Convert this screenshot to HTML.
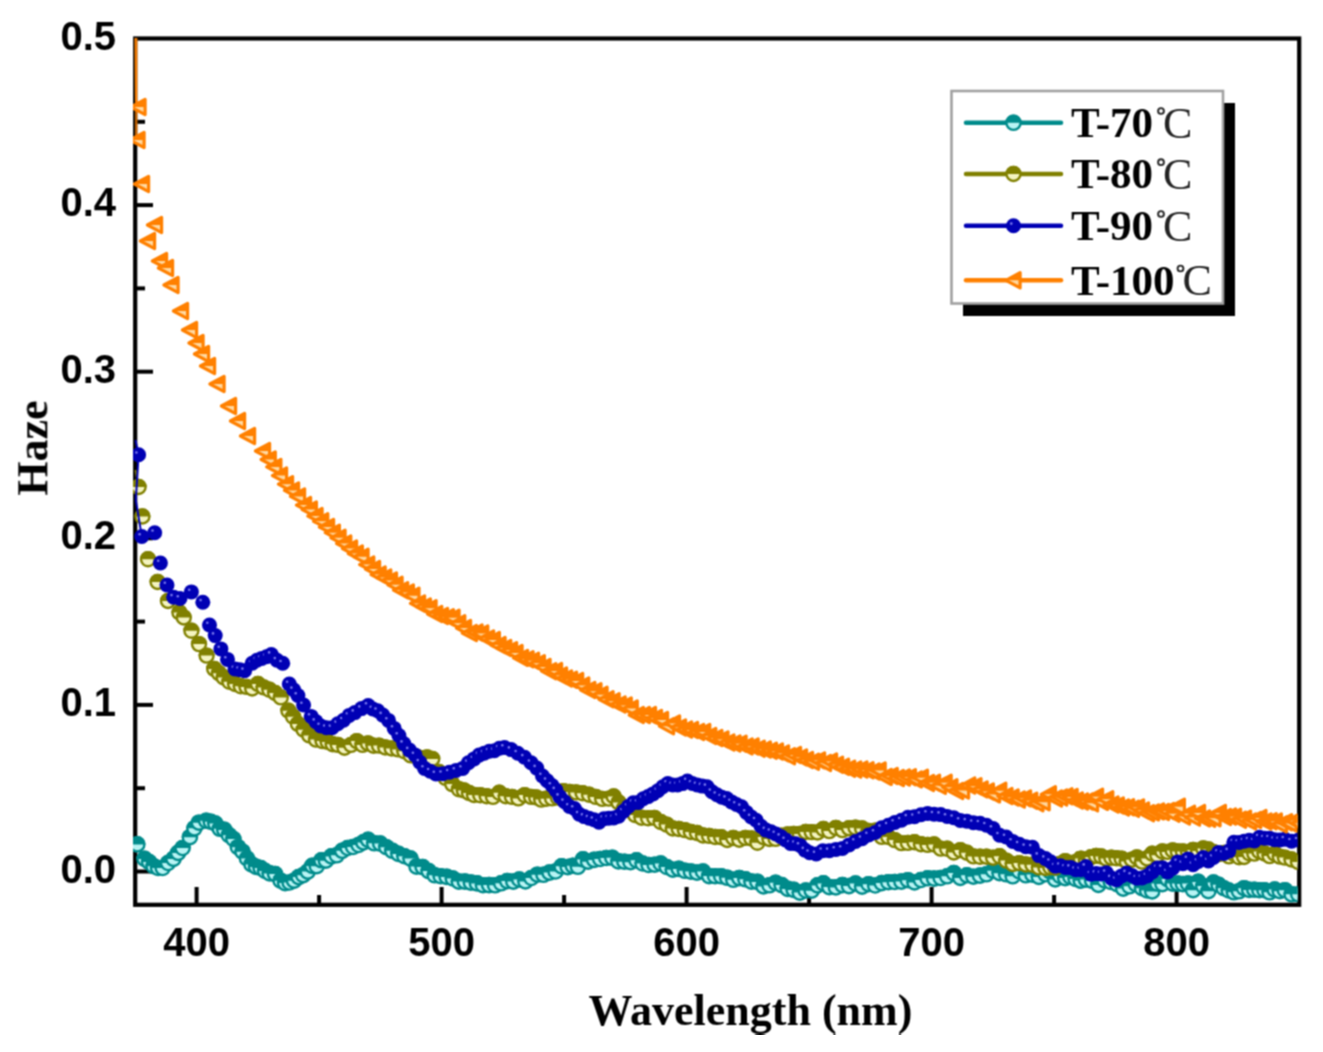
<!DOCTYPE html>
<html><head><meta charset="utf-8"><style>
html,body{margin:0;padding:0;background:#fff;}
svg{display:block;}
.tk{font-family:"Liberation Sans",sans-serif;font-weight:bold;font-size:40px;fill:#000;}
.ti{font-family:"Liberation Serif",serif;font-weight:bold;font-size:44px;fill:#000;}
.lg{font-family:"Liberation Serif",serif;font-weight:bold;font-size:43px;fill:#000;}
.deg{font-weight:normal;font-size:26px;}
.cc{font-family:"Liberation Serif",serif;font-size:44px;fill:#222;}
</style></head><body>
<svg width="1323" height="1052" viewBox="0 0 1323 1052">
<rect width="1323" height="1052" fill="#fff"/>
<filter id="bl" x="0" y="0" width="100%" height="100%" color-interpolation-filters="sRGB"><feConvolveMatrix order="3" kernelMatrix="1 2 1 2 4 2 1 2 1" divisor="16" edgeMode="duplicate"/></filter>
<g filter="url(#bl)">

<defs>
<clipPath id="cp"><rect x="133" y="36" width="1164.5" height="869"/></clipPath>
<g id="mt"><circle r="7.1" fill="#b8f4f4" stroke="#008B8B" stroke-width="2.4"/><path d="M-8.3,0A8.3,8.3 0 0 1 8.3,0Z" fill="#008B8B"/></g>
<g id="mo"><circle r="7.0" fill="#f4f4c0" stroke="#808000" stroke-width="2.4"/><path d="M-8.2,0A8.2,8.2 0 0 1 8.2,0Z" fill="#808000"/></g>
<g id="mb"><circle r="7.5" fill="#0000B4"/><circle cx="-2.2" cy="-2.2" r="1.3" fill="#7b7bf0"/></g>
<g id="mr"><path d="M-7.6,0L6.6,-7.6L6.6,7.6Z" fill="#ffd8a0" stroke="#FF8000" stroke-width="3.2" stroke-linejoin="round"/><path d="M-7.6,0L6.6,-7.6L6.6,0Z" fill="#FF8000"/></g>
</defs>
<rect x="135.2" y="38.5" width="1164" height="866.3" fill="none" stroke="#000" stroke-width="4.2"/><line x1="135" y1="871.5" x2="153" y2="871.5" stroke="#000" stroke-width="4"/><line x1="135" y1="788.2" x2="145" y2="788.2" stroke="#000" stroke-width="4"/><line x1="135" y1="704.9" x2="153" y2="704.9" stroke="#000" stroke-width="4"/><line x1="135" y1="621.6" x2="145" y2="621.6" stroke="#000" stroke-width="4"/><line x1="135" y1="538.3" x2="153" y2="538.3" stroke="#000" stroke-width="4"/><line x1="135" y1="455.0" x2="145" y2="455.0" stroke="#000" stroke-width="4"/><line x1="135" y1="371.7" x2="153" y2="371.7" stroke="#000" stroke-width="4"/><line x1="135" y1="288.4" x2="145" y2="288.4" stroke="#000" stroke-width="4"/><line x1="135" y1="205.1" x2="153" y2="205.1" stroke="#000" stroke-width="4"/><line x1="135" y1="121.8" x2="145" y2="121.8" stroke="#000" stroke-width="4"/><line x1="196.6" y1="905" x2="196.6" y2="887" stroke="#000" stroke-width="4"/><line x1="319.1" y1="905" x2="319.1" y2="895" stroke="#000" stroke-width="4"/><line x1="441.6" y1="905" x2="441.6" y2="887" stroke="#000" stroke-width="4"/><line x1="564.1" y1="905" x2="564.1" y2="895" stroke="#000" stroke-width="4"/><line x1="686.6" y1="905" x2="686.6" y2="887" stroke="#000" stroke-width="4"/><line x1="809.1" y1="905" x2="809.1" y2="895" stroke="#000" stroke-width="4"/><line x1="931.6" y1="905" x2="931.6" y2="887" stroke="#000" stroke-width="4"/><line x1="1054.1" y1="905" x2="1054.1" y2="895" stroke="#000" stroke-width="4"/><line x1="1176.6" y1="905" x2="1176.6" y2="887" stroke="#000" stroke-width="4"/>
<g clip-path="url(#cp)">
<polyline points="135.5,838.0 137.3,844.4" fill="none" stroke="#008B8B" stroke-width="2"/><use href="#mt" x="137.3" y="844.4"/><use href="#mt" x="144.5" y="858.9"/><use href="#mt" x="149.1" y="862.1"/><use href="#mt" x="153.6" y="866.2"/><use href="#mt" x="158.1" y="868.0"/><use href="#mt" x="162.7" y="868.0"/><use href="#mt" x="168.1" y="863.0"/><use href="#mt" x="173.5" y="858.9"/><use href="#mt" x="178.1" y="852.9"/><use href="#mt" x="182.6" y="848.0"/><use href="#mt" x="189.9" y="837.2"/><use href="#mt" x="194.4" y="828.3"/><use href="#mt" x="198.9" y="822.7"/><use href="#mt" x="206.2" y="820.8"/><use href="#mt" x="210.8" y="821.8"/><use href="#mt" x="215.3" y="823.6"/><use href="#mt" x="219.8" y="828.8"/><use href="#mt" x="224.3" y="829.9"/><use href="#mt" x="228.9" y="835.2"/><use href="#mt" x="233.4" y="839.0"/><use href="#mt" x="237.9" y="847.2"/><use href="#mt" x="242.5" y="851.7"/><use href="#mt" x="247.0" y="858.5"/><use href="#mt" x="251.5" y="864.4"/><use href="#mt" x="256.1" y="866.9"/><use href="#mt" x="260.6" y="868.0"/><use href="#mt" x="265.1" y="871.0"/><use href="#mt" x="269.7" y="873.4"/><use href="#mt" x="275.1" y="874.1"/><use href="#mt" x="280.6" y="880.7"/><use href="#mt" x="285.1" y="883.1"/><use href="#mt" x="289.6" y="882.5"/><use href="#mt" x="294.1" y="880.7"/><use href="#mt" x="298.7" y="877.1"/><use href="#mt" x="303.2" y="875.2"/><use href="#mt" x="307.8" y="871.6"/><use href="#mt" x="312.3" y="865.9"/><use href="#mt" x="316.8" y="866.2"/><use href="#mt" x="321.4" y="860.3"/><use href="#mt" x="325.9" y="860.7"/><use href="#mt" x="331.4" y="856.4"/><use href="#mt" x="336.8" y="855.3"/><use href="#mt" x="342.2" y="850.8"/><use href="#mt" x="347.7" y="848.0"/><use href="#mt" x="353.1" y="847.0"/><use href="#mt" x="358.6" y="845.0"/><use href="#mt" x="363.4" y="842.4"/><use href="#mt" x="368.1" y="839.9"/><use href="#mt" x="374.2" y="843.3"/><use href="#mt" x="380.2" y="843.6"/><use href="#mt" x="386.3" y="847.2"/><use href="#mt" x="392.3" y="850.8"/><use href="#mt" x="398.4" y="853.9"/><use href="#mt" x="404.4" y="856.2"/><use href="#mt" x="410.5" y="858.6"/><use href="#mt" x="416.5" y="866.6"/><use href="#mt" x="422.6" y="867.1"/><use href="#mt" x="428.6" y="871.1"/><use href="#mt" x="434.7" y="875.3"/><use href="#mt" x="440.7" y="876.2"/><use href="#mt" x="446.7" y="876.9"/><use href="#mt" x="452.8" y="878.5"/><use href="#mt" x="458.8" y="881.6"/><use href="#mt" x="464.9" y="881.6"/><use href="#mt" x="470.9" y="882.6"/><use href="#mt" x="477.0" y="883.4"/><use href="#mt" x="483.0" y="885.2"/><use href="#mt" x="489.1" y="885.1"/><use href="#mt" x="495.1" y="885.3"/><use href="#mt" x="501.2" y="883.3"/><use href="#mt" x="507.2" y="881.1"/><use href="#mt" x="513.3" y="881.6"/><use href="#mt" x="519.3" y="879.5"/><use href="#mt" x="525.4" y="881.4"/><use href="#mt" x="531.4" y="878.0"/><use href="#mt" x="537.4" y="874.7"/><use href="#mt" x="543.5" y="874.8"/><use href="#mt" x="549.5" y="872.6"/><use href="#mt" x="555.6" y="871.5"/><use href="#mt" x="561.6" y="866.3"/><use href="#mt" x="567.7" y="867.1"/><use href="#mt" x="572.8" y="865.8"/><use href="#mt" x="577.9" y="866.8"/><use href="#mt" x="583.0" y="859.4"/><use href="#mt" x="588.1" y="861.7"/><use href="#mt" x="594.2" y="859.9"/><use href="#mt" x="600.2" y="859.0"/><use href="#mt" x="606.3" y="858.0"/><use href="#mt" x="612.3" y="857.8"/><use href="#mt" x="618.4" y="861.4"/><use href="#mt" x="624.4" y="861.7"/><use href="#mt" x="630.5" y="862.2"/><use href="#mt" x="636.5" y="860.3"/><use href="#mt" x="642.6" y="863.5"/><use href="#mt" x="648.6" y="865.0"/><use href="#mt" x="654.7" y="864.7"/><use href="#mt" x="660.7" y="863.5"/><use href="#mt" x="666.7" y="867.0"/><use href="#mt" x="672.8" y="869.7"/><use href="#mt" x="678.8" y="868.9"/><use href="#mt" x="684.9" y="870.8"/><use href="#mt" x="690.9" y="871.6"/><use href="#mt" x="697.0" y="872.6"/><use href="#mt" x="703.0" y="871.5"/><use href="#mt" x="709.1" y="876.1"/><use href="#mt" x="715.1" y="876.2"/><use href="#mt" x="721.2" y="876.3"/><use href="#mt" x="727.2" y="877.8"/><use href="#mt" x="733.3" y="879.8"/><use href="#mt" x="739.3" y="878.1"/><use href="#mt" x="745.4" y="879.3"/><use href="#mt" x="751.4" y="881.6"/><use href="#mt" x="757.4" y="881.9"/><use href="#mt" x="763.5" y="886.4"/><use href="#mt" x="769.5" y="885.3"/><use href="#mt" x="775.6" y="882.8"/><use href="#mt" x="781.6" y="885.1"/><use href="#mt" x="787.7" y="888.9"/><use href="#mt" x="793.7" y="889.9"/><use href="#mt" x="799.8" y="892.6"/><use href="#mt" x="805.8" y="890.5"/><use href="#mt" x="811.7" y="890.7"/><use href="#mt" x="817.5" y="885.4"/><use href="#mt" x="823.4" y="883.4"/><use href="#mt" x="829.3" y="887.1"/><use href="#mt" x="835.9" y="887.4"/><use href="#mt" x="842.4" y="885.1"/><use href="#mt" x="849.0" y="886.1"/><use href="#mt" x="855.5" y="883.5"/><use href="#mt" x="862.1" y="886.6"/><use href="#mt" x="868.6" y="884.2"/><use href="#mt" x="875.2" y="885.5"/><use href="#mt" x="881.7" y="883.1"/><use href="#mt" x="888.3" y="882.2"/><use href="#mt" x="894.8" y="882.0"/><use href="#mt" x="901.4" y="881.6"/><use href="#mt" x="907.9" y="880.2"/><use href="#mt" x="914.5" y="882.4"/><use href="#mt" x="921.0" y="880.0"/><use href="#mt" x="927.6" y="878.3"/><use href="#mt" x="934.1" y="878.6"/><use href="#mt" x="940.7" y="878.0"/><use href="#mt" x="947.2" y="876.3"/><use href="#mt" x="953.8" y="873.1"/><use href="#mt" x="960.3" y="877.9"/><use href="#mt" x="966.9" y="875.3"/><use href="#mt" x="973.4" y="876.7"/><use href="#mt" x="980.0" y="875.6"/><use href="#mt" x="986.5" y="874.3"/><use href="#mt" x="993.1" y="870.7"/><use href="#mt" x="999.6" y="873.2"/><use href="#mt" x="1006.2" y="874.3"/><use href="#mt" x="1012.7" y="876.3"/><use href="#mt" x="1019.3" y="871.3"/><use href="#mt" x="1025.8" y="875.3"/><use href="#mt" x="1032.4" y="874.6"/><use href="#mt" x="1038.9" y="876.9"/><use href="#mt" x="1045.5" y="874.3"/><use href="#mt" x="1050.3" y="871.7"/><use href="#mt" x="1055.2" y="879.4"/><use href="#mt" x="1060.0" y="876.0"/><use href="#mt" x="1065.2" y="878.1"/><use href="#mt" x="1070.4" y="877.0"/><use href="#mt" x="1075.6" y="879.0"/><use href="#mt" x="1080.8" y="880.7"/><use href="#mt" x="1086.0" y="879.6"/><use href="#mt" x="1092.2" y="880.9"/><use href="#mt" x="1098.4" y="884.9"/><use href="#mt" x="1104.6" y="880.3"/><use href="#mt" x="1110.8" y="882.0"/><use href="#mt" x="1117.0" y="884.2"/><use href="#mt" x="1123.2" y="888.6"/><use href="#mt" x="1129.5" y="886.3"/><use href="#mt" x="1135.8" y="884.2"/><use href="#mt" x="1142.0" y="888.2"/><use href="#mt" x="1147.1" y="890.5"/><use href="#mt" x="1152.2" y="891.4"/><use href="#mt" x="1157.3" y="883.5"/><use href="#mt" x="1162.4" y="884.1"/><use href="#mt" x="1167.5" y="879.1"/><use href="#mt" x="1172.7" y="883.6"/><use href="#mt" x="1177.8" y="883.6"/><use href="#mt" x="1182.9" y="884.1"/><use href="#mt" x="1188.0" y="883.5"/><use href="#mt" x="1193.1" y="890.2"/><use href="#mt" x="1198.2" y="881.9"/><use href="#mt" x="1203.3" y="886.1"/><use href="#mt" x="1208.4" y="891.2"/><use href="#mt" x="1213.5" y="882.6"/><use href="#mt" x="1218.6" y="884.8"/><use href="#mt" x="1223.7" y="888.2"/><use href="#mt" x="1228.8" y="890.5"/><use href="#mt" x="1233.9" y="892.3"/><use href="#mt" x="1239.0" y="891.3"/><use href="#mt" x="1244.1" y="888.2"/><use href="#mt" x="1249.2" y="889.9"/><use href="#mt" x="1254.3" y="889.7"/><use href="#mt" x="1259.4" y="890.2"/><use href="#mt" x="1264.5" y="890.2"/><use href="#mt" x="1269.6" y="892.3"/><use href="#mt" x="1274.7" y="889.6"/><use href="#mt" x="1279.8" y="891.2"/><use href="#mt" x="1284.9" y="890.2"/><use href="#mt" x="1291.6" y="894.3"/><use href="#mt" x="1298.2" y="894.3"/><polyline points="135.5,470.0 138.6,487.0" fill="none" stroke="#808000" stroke-width="2"/><use href="#mo" x="138.6" y="487.0"/><use href="#mo" x="142.4" y="516.5"/><use href="#mo" x="148.0" y="559.3"/><use href="#mo" x="157.6" y="582.0"/><use href="#mo" x="168.0" y="601.0"/><use href="#mo" x="179.4" y="612.5"/><use href="#mo" x="183.8" y="617.5"/><use href="#mo" x="191.4" y="630.8"/><use href="#mo" x="199.0" y="644.1"/><use href="#mo" x="206.6" y="655.6"/><use href="#mo" x="214.2" y="668.9"/><use href="#mo" x="218.9" y="673.2"/><use href="#mo" x="223.7" y="677.4"/><use href="#mo" x="229.4" y="681.8"/><use href="#mo" x="235.1" y="684.0"/><use href="#mo" x="240.8" y="686.3"/><use href="#mo" x="246.5" y="686.9"/><use href="#mo" x="252.2" y="688.5"/><use href="#mo" x="257.9" y="684.0"/><use href="#mo" x="263.6" y="687.4"/><use href="#mo" x="269.4" y="689.8"/><use href="#mo" x="275.1" y="693.0"/><use href="#mo" x="280.8" y="697.4"/><use href="#mo" x="288.4" y="710.7"/><use href="#mo" x="293.1" y="716.8"/><use href="#mo" x="297.9" y="724.0"/><use href="#mo" x="303.6" y="729.7"/><use href="#mo" x="309.3" y="735.4"/><use href="#mo" x="316.0" y="739.6"/><use href="#mo" x="322.6" y="741.1"/><use href="#mo" x="327.7" y="741.9"/><use href="#mo" x="332.7" y="744.2"/><use href="#mo" x="337.8" y="744.9"/><use href="#mo" x="344.5" y="747.7"/><use href="#mo" x="351.1" y="744.9"/><use href="#mo" x="356.8" y="741.1"/><use href="#mo" x="362.5" y="744.9"/><use href="#mo" x="368.0" y="743.4"/><use href="#mo" x="373.5" y="745.7"/><use href="#mo" x="379.0" y="745.6"/><use href="#mo" x="385.3" y="747.5"/><use href="#mo" x="391.7" y="748.5"/><use href="#mo" x="398.0" y="749.4"/><use href="#mo" x="404.3" y="751.3"/><use href="#mo" x="410.7" y="755.4"/><use href="#mo" x="417.0" y="757.0"/><use href="#mo" x="422.1" y="758.1"/><use href="#mo" x="427.1" y="757.5"/><use href="#mo" x="432.2" y="758.9"/><use href="#mo" x="438.9" y="772.0"/><use href="#mo" x="445.5" y="777.9"/><use href="#mo" x="452.2" y="784.1"/><use href="#mo" x="458.9" y="789.3"/><use href="#mo" x="463.9" y="790.4"/><use href="#mo" x="469.0" y="793.0"/><use href="#mo" x="474.0" y="795.0"/><use href="#mo" x="480.3" y="795.3"/><use href="#mo" x="486.7" y="796.2"/><use href="#mo" x="493.0" y="796.9"/><use href="#mo" x="499.3" y="792.8"/><use href="#mo" x="505.7" y="796.2"/><use href="#mo" x="512.0" y="796.9"/><use href="#mo" x="518.4" y="798.4"/><use href="#mo" x="524.7" y="795.1"/><use href="#mo" x="531.1" y="796.9"/><use href="#mo" x="536.2" y="797.4"/><use href="#mo" x="541.2" y="799.6"/><use href="#mo" x="546.3" y="798.8"/><use href="#mo" x="552.1" y="798.4"/><use href="#mo" x="557.9" y="797.6"/><use href="#mo" x="563.7" y="791.1"/><use href="#mo" x="569.5" y="792.0"/><use href="#mo" x="576.0" y="792.4"/><use href="#mo" x="582.6" y="793.3"/><use href="#mo" x="589.1" y="794.7"/><use href="#mo" x="595.7" y="796.9"/><use href="#mo" x="602.2" y="798.9"/><use href="#mo" x="608.8" y="798.6"/><use href="#mo" x="613.7" y="796.5"/><use href="#mo" x="618.6" y="802.5"/><use href="#mo" x="624.1" y="808.3"/><use href="#mo" x="629.5" y="808.7"/><use href="#mo" x="635.0" y="815.0"/><use href="#mo" x="641.5" y="817.7"/><use href="#mo" x="648.1" y="818.3"/><use href="#mo" x="654.4" y="817.9"/><use href="#mo" x="660.7" y="822.0"/><use href="#mo" x="666.7" y="824.6"/><use href="#mo" x="672.8" y="828.5"/><use href="#mo" x="678.8" y="829.0"/><use href="#mo" x="684.9" y="830.1"/><use href="#mo" x="690.9" y="832.0"/><use href="#mo" x="697.0" y="833.0"/><use href="#mo" x="703.0" y="835.5"/><use href="#mo" x="709.1" y="835.9"/><use href="#mo" x="715.1" y="837.0"/><use href="#mo" x="721.2" y="837.2"/><use href="#mo" x="727.2" y="840.0"/><use href="#mo" x="733.3" y="838.0"/><use href="#mo" x="739.3" y="839.7"/><use href="#mo" x="745.4" y="837.9"/><use href="#mo" x="751.4" y="838.5"/><use href="#mo" x="757.4" y="842.8"/><use href="#mo" x="763.5" y="837.1"/><use href="#mo" x="769.5" y="839.0"/><use href="#mo" x="775.6" y="838.9"/><use href="#mo" x="781.6" y="835.6"/><use href="#mo" x="787.7" y="834.5"/><use href="#mo" x="793.7" y="833.9"/><use href="#mo" x="799.8" y="833.9"/><use href="#mo" x="805.8" y="832.0"/><use href="#mo" x="811.7" y="832.1"/><use href="#mo" x="817.5" y="832.5"/><use href="#mo" x="823.4" y="829.0"/><use href="#mo" x="829.3" y="831.1"/><use href="#mo" x="835.9" y="827.9"/><use href="#mo" x="842.4" y="830.1"/><use href="#mo" x="849.0" y="828.2"/><use href="#mo" x="855.5" y="827.7"/><use href="#mo" x="862.1" y="828.5"/><use href="#mo" x="868.6" y="831.0"/><use href="#mo" x="875.2" y="830.8"/><use href="#mo" x="881.7" y="836.9"/><use href="#mo" x="888.3" y="837.0"/><use href="#mo" x="894.8" y="840.1"/><use href="#mo" x="901.4" y="843.1"/><use href="#mo" x="907.9" y="842.9"/><use href="#mo" x="914.5" y="842.2"/><use href="#mo" x="921.0" y="844.2"/><use href="#mo" x="927.6" y="844.9"/><use href="#mo" x="934.1" y="844.5"/><use href="#mo" x="940.7" y="848.6"/><use href="#mo" x="947.2" y="848.8"/><use href="#mo" x="953.8" y="852.5"/><use href="#mo" x="960.3" y="850.1"/><use href="#mo" x="966.9" y="852.7"/><use href="#mo" x="973.4" y="856.4"/><use href="#mo" x="980.0" y="856.8"/><use href="#mo" x="986.5" y="856.7"/><use href="#mo" x="993.1" y="857.7"/><use href="#mo" x="999.6" y="856.3"/><use href="#mo" x="1006.2" y="860.6"/><use href="#mo" x="1012.7" y="864.0"/><use href="#mo" x="1019.3" y="863.1"/><use href="#mo" x="1025.8" y="864.5"/><use href="#mo" x="1032.4" y="864.8"/><use href="#mo" x="1038.9" y="867.4"/><use href="#mo" x="1045.5" y="868.0"/><use href="#mo" x="1050.3" y="867.3"/><use href="#mo" x="1055.2" y="867.6"/><use href="#mo" x="1060.0" y="864.0"/><use href="#mo" x="1065.2" y="861.1"/><use href="#mo" x="1070.4" y="863.0"/><use href="#mo" x="1075.6" y="862.2"/><use href="#mo" x="1080.8" y="858.6"/><use href="#mo" x="1085.9" y="860.3"/><use href="#mo" x="1091.0" y="857.3"/><use href="#mo" x="1096.1" y="855.9"/><use href="#mo" x="1101.2" y="856.5"/><use href="#mo" x="1106.3" y="858.6"/><use href="#mo" x="1111.4" y="857.7"/><use href="#mo" x="1116.5" y="858.3"/><use href="#mo" x="1121.6" y="858.6"/><use href="#mo" x="1126.7" y="861.5"/><use href="#mo" x="1131.8" y="859.7"/><use href="#mo" x="1136.9" y="857.4"/><use href="#mo" x="1142.0" y="861.6"/><use href="#mo" x="1147.1" y="858.5"/><use href="#mo" x="1152.2" y="853.7"/><use href="#mo" x="1157.3" y="855.2"/><use href="#mo" x="1162.4" y="851.4"/><use href="#mo" x="1167.5" y="851.9"/><use href="#mo" x="1172.7" y="850.5"/><use href="#mo" x="1177.8" y="851.4"/><use href="#mo" x="1182.9" y="851.4"/><use href="#mo" x="1188.0" y="851.9"/><use href="#mo" x="1193.1" y="850.0"/><use href="#mo" x="1198.2" y="851.1"/><use href="#mo" x="1203.3" y="848.4"/><use href="#mo" x="1208.5" y="849.5"/><use href="#mo" x="1213.7" y="852.3"/><use href="#mo" x="1218.8" y="854.1"/><use href="#mo" x="1224.0" y="853.0"/><use href="#mo" x="1229.0" y="856.4"/><use href="#mo" x="1234.0" y="854.0"/><use href="#mo" x="1239.1" y="857.3"/><use href="#mo" x="1244.1" y="857.0"/><use href="#mo" x="1249.2" y="853.3"/><use href="#mo" x="1254.3" y="853.6"/><use href="#mo" x="1259.4" y="851.4"/><use href="#mo" x="1264.5" y="853.5"/><use href="#mo" x="1269.6" y="856.1"/><use href="#mo" x="1274.7" y="853.7"/><use href="#mo" x="1279.8" y="856.6"/><use href="#mo" x="1284.9" y="857.6"/><use href="#mo" x="1291.5" y="859.5"/><use href="#mo" x="1298.0" y="862.0"/><polyline points="135.5,440.0 138.6,454.7 135.8,500.0 141.8,536.5" fill="none" stroke="#0000B4" stroke-width="2"/><use href="#mb" x="138.6" y="454.7"/><use href="#mb" x="141.8" y="536.5"/><use href="#mb" x="154.7" y="532.7"/><use href="#mb" x="160.4" y="563.0"/><use href="#mb" x="167.0" y="585.0"/><use href="#mb" x="173.7" y="597.3"/><use href="#mb" x="180.0" y="598.5"/><use href="#mb" x="191.4" y="591.9"/><use href="#mb" x="202.8" y="602.3"/><use href="#mb" x="209.5" y="625.0"/><use href="#mb" x="215.2" y="635.6"/><use href="#mb" x="220.9" y="648.9"/><use href="#mb" x="227.5" y="659.4"/><use href="#mb" x="235.0" y="668.9"/><use href="#mb" x="239.8" y="669.8"/><use href="#mb" x="244.6" y="670.8"/><use href="#mb" x="252.2" y="663.2"/><use href="#mb" x="256.9" y="660.3"/><use href="#mb" x="261.7" y="658.4"/><use href="#mb" x="266.5" y="656.7"/><use href="#mb" x="271.3" y="654.6"/><use href="#mb" x="277.0" y="660.3"/><use href="#mb" x="282.7" y="663.2"/><use href="#mb" x="289.3" y="684.0"/><use href="#mb" x="293.6" y="689.8"/><use href="#mb" x="297.9" y="695.5"/><use href="#mb" x="303.6" y="705.0"/><use href="#mb" x="311.2" y="716.4"/><use href="#mb" x="315.9" y="721.6"/><use href="#mb" x="320.7" y="725.9"/><use href="#mb" x="326.4" y="727.7"/><use href="#mb" x="332.1" y="727.8"/><use href="#mb" x="337.8" y="723.8"/><use href="#mb" x="343.5" y="720.2"/><use href="#mb" x="349.2" y="715.4"/><use href="#mb" x="354.9" y="712.6"/><use href="#mb" x="361.5" y="708.6"/><use href="#mb" x="368.2" y="705.5"/><use href="#mb" x="372.9" y="709.0"/><use href="#mb" x="377.7" y="710.7"/><use href="#mb" x="382.8" y="715.1"/><use href="#mb" x="388.5" y="720.4"/><use href="#mb" x="394.2" y="728.4"/><use href="#mb" x="398.9" y="735.5"/><use href="#mb" x="403.7" y="743.6"/><use href="#mb" x="409.4" y="750.1"/><use href="#mb" x="415.1" y="755.0"/><use href="#mb" x="419.9" y="762.3"/><use href="#mb" x="424.6" y="768.4"/><use href="#mb" x="430.3" y="771.2"/><use href="#mb" x="436.0" y="774.0"/><use href="#mb" x="442.7" y="773.7"/><use href="#mb" x="449.4" y="772.2"/><use href="#mb" x="456.0" y="770.4"/><use href="#mb" x="462.7" y="768.4"/><use href="#mb" x="468.4" y="762.7"/><use href="#mb" x="474.0" y="758.9"/><use href="#mb" x="479.1" y="755.1"/><use href="#mb" x="484.2" y="753.3"/><use href="#mb" x="489.3" y="751.3"/><use href="#mb" x="494.4" y="750.8"/><use href="#mb" x="499.4" y="748.3"/><use href="#mb" x="504.5" y="747.5"/><use href="#mb" x="511.1" y="749.6"/><use href="#mb" x="517.8" y="753.2"/><use href="#mb" x="524.5" y="757.3"/><use href="#mb" x="531.1" y="762.7"/><use href="#mb" x="536.8" y="768.1"/><use href="#mb" x="542.5" y="776.0"/><use href="#mb" x="547.2" y="780.7"/><use href="#mb" x="552.0" y="785.5"/><use href="#mb" x="555.9" y="790.1"/><use href="#mb" x="559.7" y="796.6"/><use href="#mb" x="564.6" y="801.8"/><use href="#mb" x="569.5" y="806.5"/><use href="#mb" x="574.4" y="808.5"/><use href="#mb" x="579.3" y="814.3"/><use href="#mb" x="584.2" y="816.6"/><use href="#mb" x="589.1" y="818.3"/><use href="#mb" x="594.0" y="819.7"/><use href="#mb" x="599.0" y="822.2"/><use href="#mb" x="603.9" y="818.7"/><use href="#mb" x="608.8" y="818.3"/><use href="#mb" x="613.7" y="817.9"/><use href="#mb" x="618.6" y="816.3"/><use href="#mb" x="623.5" y="811.2"/><use href="#mb" x="628.4" y="806.5"/><use href="#mb" x="633.3" y="802.7"/><use href="#mb" x="638.3" y="802.5"/><use href="#mb" x="643.2" y="798.8"/><use href="#mb" x="648.1" y="796.6"/><use href="#mb" x="653.0" y="793.9"/><use href="#mb" x="657.9" y="790.8"/><use href="#mb" x="662.8" y="786.8"/><use href="#mb" x="667.8" y="783.5"/><use href="#mb" x="672.7" y="784.9"/><use href="#mb" x="677.6" y="785.0"/><use href="#mb" x="682.5" y="783.6"/><use href="#mb" x="687.4" y="781.0"/><use href="#mb" x="692.3" y="783.5"/><use href="#mb" x="697.2" y="784.9"/><use href="#mb" x="702.2" y="786.1"/><use href="#mb" x="707.1" y="786.8"/><use href="#mb" x="712.0" y="791.8"/><use href="#mb" x="716.9" y="794.7"/><use href="#mb" x="721.8" y="797.2"/><use href="#mb" x="726.7" y="798.6"/><use href="#mb" x="731.6" y="801.9"/><use href="#mb" x="736.5" y="804.5"/><use href="#mb" x="741.5" y="806.8"/><use href="#mb" x="746.4" y="812.4"/><use href="#mb" x="751.3" y="817.0"/><use href="#mb" x="756.2" y="820.2"/><use href="#mb" x="761.1" y="826.2"/><use href="#mb" x="766.0" y="830.1"/><use href="#mb" x="771.0" y="831.8"/><use href="#mb" x="775.9" y="834.0"/><use href="#mb" x="780.8" y="836.6"/><use href="#mb" x="785.7" y="839.9"/><use href="#mb" x="790.6" y="843.4"/><use href="#mb" x="795.5" y="843.8"/><use href="#mb" x="800.2" y="845.4"/><use href="#mb" x="805.0" y="850.1"/><use href="#mb" x="809.7" y="852.7"/><use href="#mb" x="816.2" y="854.0"/><use href="#mb" x="822.8" y="850.7"/><use href="#mb" x="829.3" y="850.8"/><use href="#mb" x="835.9" y="849.4"/><use href="#mb" x="842.4" y="848.4"/><use href="#mb" x="849.0" y="844.9"/><use href="#mb" x="855.5" y="841.5"/><use href="#mb" x="862.1" y="838.7"/><use href="#mb" x="868.6" y="835.0"/><use href="#mb" x="875.2" y="832.5"/><use href="#mb" x="881.7" y="827.7"/><use href="#mb" x="888.3" y="825.2"/><use href="#mb" x="894.8" y="822.5"/><use href="#mb" x="901.4" y="820.2"/><use href="#mb" x="907.9" y="817.3"/><use href="#mb" x="914.5" y="816.7"/><use href="#mb" x="921.0" y="814.7"/><use href="#mb" x="927.6" y="813.4"/><use href="#mb" x="934.1" y="814.2"/><use href="#mb" x="940.7" y="814.6"/><use href="#mb" x="947.2" y="816.4"/><use href="#mb" x="953.8" y="817.7"/><use href="#mb" x="960.3" y="820.4"/><use href="#mb" x="966.9" y="821.3"/><use href="#mb" x="973.4" y="822.7"/><use href="#mb" x="980.0" y="823.2"/><use href="#mb" x="986.5" y="825.2"/><use href="#mb" x="993.1" y="828.5"/><use href="#mb" x="999.6" y="835.2"/><use href="#mb" x="1006.2" y="837.0"/><use href="#mb" x="1012.7" y="841.4"/><use href="#mb" x="1019.3" y="844.2"/><use href="#mb" x="1025.8" y="846.8"/><use href="#mb" x="1032.4" y="847.3"/><use href="#mb" x="1038.9" y="855.6"/><use href="#mb" x="1045.5" y="858.6"/><use href="#mb" x="1050.5" y="861.7"/><use href="#mb" x="1055.4" y="866.2"/><use href="#mb" x="1060.4" y="865.7"/><use href="#mb" x="1065.5" y="867.5"/><use href="#mb" x="1070.6" y="867.6"/><use href="#mb" x="1075.7" y="869.8"/><use href="#mb" x="1080.8" y="869.8"/><use href="#mb" x="1085.9" y="866.6"/><use href="#mb" x="1091.0" y="874.2"/><use href="#mb" x="1096.1" y="873.6"/><use href="#mb" x="1101.2" y="873.9"/><use href="#mb" x="1106.3" y="872.7"/><use href="#mb" x="1111.4" y="878.1"/><use href="#mb" x="1116.5" y="879.7"/><use href="#mb" x="1121.6" y="875.9"/><use href="#mb" x="1126.7" y="873.1"/><use href="#mb" x="1131.8" y="875.4"/><use href="#mb" x="1136.9" y="878.2"/><use href="#mb" x="1142.0" y="878.0"/><use href="#mb" x="1147.1" y="875.9"/><use href="#mb" x="1152.2" y="871.9"/><use href="#mb" x="1157.3" y="868.0"/><use href="#mb" x="1162.4" y="867.8"/><use href="#mb" x="1167.5" y="871.9"/><use href="#mb" x="1172.7" y="868.2"/><use href="#mb" x="1177.8" y="861.9"/><use href="#mb" x="1182.9" y="863.7"/><use href="#mb" x="1188.0" y="858.9"/><use href="#mb" x="1193.1" y="864.7"/><use href="#mb" x="1198.2" y="861.5"/><use href="#mb" x="1203.3" y="857.6"/><use href="#mb" x="1208.4" y="860.9"/><use href="#mb" x="1213.5" y="857.5"/><use href="#mb" x="1218.6" y="852.4"/><use href="#mb" x="1223.7" y="853.5"/><use href="#mb" x="1228.8" y="851.1"/><use href="#mb" x="1233.9" y="842.2"/><use href="#mb" x="1239.0" y="842.5"/><use href="#mb" x="1244.1" y="841.2"/><use href="#mb" x="1249.2" y="840.3"/><use href="#mb" x="1254.3" y="841.0"/><use href="#mb" x="1259.4" y="837.2"/><use href="#mb" x="1264.5" y="838.2"/><use href="#mb" x="1269.6" y="838.2"/><use href="#mb" x="1274.7" y="839.8"/><use href="#mb" x="1279.8" y="839.9"/><use href="#mb" x="1284.9" y="839.2"/><use href="#mb" x="1291.6" y="841.2"/><use href="#mb" x="1298.2" y="840.2"/><polyline points="135.5,38.0 136.0,100.0 138.5,107.0" fill="none" stroke="#FF8000" stroke-width="2"/><line x1="136.2" y1="38" x2="136.2" y2="142" stroke="#FF8000" stroke-width="2.6" opacity="0.75"/><use href="#mr" x="138.5" y="107.0"/><use href="#mr" x="137.5" y="140.0"/><use href="#mr" x="142.0" y="184.0"/><use href="#mr" x="155.0" y="225.0"/><use href="#mr" x="148.0" y="241.0"/><use href="#mr" x="160.0" y="261.0"/><use href="#mr" x="166.0" y="268.0"/><use href="#mr" x="171.5" y="285.0"/><use href="#mr" x="181.0" y="311.0"/><use href="#mr" x="190.0" y="330.0"/><use href="#mr" x="196.5" y="343.0"/><use href="#mr" x="202.0" y="354.0"/><use href="#mr" x="208.0" y="366.0"/><use href="#mr" x="217.5" y="384.0"/><use href="#mr" x="229.0" y="406.0"/><use href="#mr" x="238.0" y="421.0"/><use href="#mr" x="248.0" y="436.0"/><use href="#mr" x="263.0" y="451.0"/><use href="#mr" x="268.7" y="459.5"/><use href="#mr" x="274.3" y="466.9"/><use href="#mr" x="280.0" y="475.6"/><use href="#mr" x="286.0" y="484.2"/><use href="#mr" x="292.0" y="490.4"/><use href="#mr" x="298.0" y="496.4"/><use href="#mr" x="304.0" y="505.1"/><use href="#mr" x="309.8" y="509.6"/><use href="#mr" x="315.5" y="516.0"/><use href="#mr" x="321.2" y="521.3"/><use href="#mr" x="327.0" y="527.0"/><use href="#mr" x="332.8" y="532.7"/><use href="#mr" x="338.5" y="537.8"/><use href="#mr" x="344.2" y="543.5"/><use href="#mr" x="350.0" y="548.6"/><use href="#mr" x="355.8" y="553.5"/><use href="#mr" x="361.5" y="556.8"/><use href="#mr" x="367.2" y="564.6"/><use href="#mr" x="373.0" y="569.0"/><use href="#mr" x="378.6" y="574.6"/><use href="#mr" x="384.2" y="577.6"/><use href="#mr" x="389.9" y="580.5"/><use href="#mr" x="395.5" y="584.8"/><use href="#mr" x="401.1" y="590.2"/><use href="#mr" x="406.8" y="592.6"/><use href="#mr" x="412.4" y="595.7"/><use href="#mr" x="418.0" y="603.4"/><use href="#mr" x="423.8" y="606.6"/><use href="#mr" x="429.5" y="608.2"/><use href="#mr" x="435.2" y="614.0"/><use href="#mr" x="441.0" y="616.0"/><use href="#mr" x="446.8" y="617.3"/><use href="#mr" x="452.5" y="617.8"/><use href="#mr" x="458.2" y="623.3"/><use href="#mr" x="464.0" y="628.0"/><use href="#mr" x="469.8" y="633.1"/><use href="#mr" x="475.5" y="632.6"/><use href="#mr" x="481.2" y="633.6"/><use href="#mr" x="487.0" y="638.4"/><use href="#mr" x="492.8" y="640.1"/><use href="#mr" x="498.5" y="645.1"/><use href="#mr" x="504.2" y="648.0"/><use href="#mr" x="510.0" y="650.2"/><use href="#mr" x="515.5" y="653.1"/><use href="#mr" x="521.0" y="657.9"/><use href="#mr" x="526.5" y="659.3"/><use href="#mr" x="532.0" y="660.8"/><use href="#mr" x="537.8" y="663.3"/><use href="#mr" x="543.5" y="666.9"/><use href="#mr" x="549.2" y="671.2"/><use href="#mr" x="555.0" y="671.1"/><use href="#mr" x="560.0" y="675.6"/><use href="#mr" x="565.0" y="678.5"/><use href="#mr" x="570.0" y="679.8"/><use href="#mr" x="576.1" y="681.1"/><use href="#mr" x="582.2" y="685.6"/><use href="#mr" x="588.3" y="690.0"/><use href="#mr" x="594.4" y="691.3"/><use href="#mr" x="600.5" y="694.8"/><use href="#mr" x="606.5" y="699.3"/><use href="#mr" x="612.6" y="701.3"/><use href="#mr" x="618.6" y="704.5"/><use href="#mr" x="624.7" y="705.5"/><use href="#mr" x="630.7" y="708.6"/><use href="#mr" x="636.8" y="715.0"/><use href="#mr" x="642.8" y="715.1"/><use href="#mr" x="648.9" y="715.1"/><use href="#mr" x="654.9" y="717.9"/><use href="#mr" x="661.0" y="720.0"/><use href="#mr" x="667.0" y="726.2"/><use href="#mr" x="673.0" y="723.5"/><use href="#mr" x="679.0" y="727.5"/><use href="#mr" x="685.0" y="729.6"/><use href="#mr" x="691.0" y="730.1"/><use href="#mr" x="697.1" y="732.0"/><use href="#mr" x="703.2" y="732.0"/><use href="#mr" x="709.2" y="736.0"/><use href="#mr" x="715.3" y="738.1"/><use href="#mr" x="721.4" y="739.4"/><use href="#mr" x="727.4" y="742.6"/><use href="#mr" x="733.5" y="743.5"/><use href="#mr" x="739.5" y="743.7"/><use href="#mr" x="745.6" y="746.4"/><use href="#mr" x="751.6" y="746.5"/><use href="#mr" x="757.7" y="748.7"/><use href="#mr" x="763.8" y="749.6"/><use href="#mr" x="769.8" y="750.7"/><use href="#mr" x="775.9" y="751.6"/><use href="#mr" x="782.0" y="753.4"/><use href="#mr" x="788.0" y="756.2"/><use href="#mr" x="794.0" y="755.0"/><use href="#mr" x="800.0" y="757.4"/><use href="#mr" x="806.0" y="760.0"/><use href="#mr" x="812.0" y="761.7"/><use href="#mr" x="818.0" y="760.4"/><use href="#mr" x="824.0" y="763.0"/><use href="#mr" x="830.0" y="761.5"/><use href="#mr" x="836.0" y="764.7"/><use href="#mr" x="842.0" y="766.8"/><use href="#mr" x="848.1" y="768.7"/><use href="#mr" x="854.2" y="769.6"/><use href="#mr" x="860.4" y="769.6"/><use href="#mr" x="866.5" y="770.3"/><use href="#mr" x="872.6" y="771.6"/><use href="#mr" x="878.6" y="770.5"/><use href="#mr" x="884.7" y="776.9"/><use href="#mr" x="890.7" y="776.0"/><use href="#mr" x="896.8" y="778.1"/><use href="#mr" x="902.8" y="777.6"/><use href="#mr" x="908.8" y="777.2"/><use href="#mr" x="914.9" y="779.4"/><use href="#mr" x="920.9" y="777.8"/><use href="#mr" x="927.0" y="783.0"/><use href="#mr" x="933.0" y="782.8"/><use href="#mr" x="938.8" y="785.8"/><use href="#mr" x="944.6" y="782.8"/><use href="#mr" x="950.4" y="787.3"/><use href="#mr" x="956.2" y="791.0"/><use href="#mr" x="962.0" y="790.5"/><use href="#mr" x="968.2" y="785.6"/><use href="#mr" x="974.4" y="786.2"/><use href="#mr" x="980.6" y="789.4"/><use href="#mr" x="986.8" y="791.6"/><use href="#mr" x="993.0" y="794.4"/><use href="#mr" x="999.2" y="790.7"/><use href="#mr" x="1005.4" y="796.1"/><use href="#mr" x="1011.6" y="797.6"/><use href="#mr" x="1017.8" y="799.6"/><use href="#mr" x="1024.0" y="798.4"/><use href="#mr" x="1030.2" y="800.7"/><use href="#mr" x="1036.4" y="803.2"/><use href="#mr" x="1042.6" y="802.2"/><use href="#mr" x="1048.8" y="794.3"/><use href="#mr" x="1055.0" y="798.5"/><use href="#mr" x="1060.2" y="797.5"/><use href="#mr" x="1065.4" y="796.3"/><use href="#mr" x="1070.6" y="796.9"/><use href="#mr" x="1075.8" y="800.6"/><use href="#mr" x="1081.0" y="801.5"/><use href="#mr" x="1086.0" y="801.6"/><use href="#mr" x="1091.0" y="803.3"/><use href="#mr" x="1096.0" y="796.7"/><use href="#mr" x="1101.0" y="801.9"/><use href="#mr" x="1106.2" y="799.3"/><use href="#mr" x="1111.5" y="804.6"/><use href="#mr" x="1116.8" y="805.5"/><use href="#mr" x="1122.0" y="807.5"/><use href="#mr" x="1127.0" y="807.3"/><use href="#mr" x="1132.0" y="808.8"/><use href="#mr" x="1137.0" y="807.4"/><use href="#mr" x="1142.0" y="810.6"/><use href="#mr" x="1147.0" y="813.2"/><use href="#mr" x="1152.0" y="812.4"/><use href="#mr" x="1157.0" y="811.4"/><use href="#mr" x="1162.0" y="812.0"/><use href="#mr" x="1167.2" y="811.0"/><use href="#mr" x="1172.5" y="813.7"/><use href="#mr" x="1177.8" y="806.7"/><use href="#mr" x="1183.0" y="816.5"/><use href="#mr" x="1188.0" y="813.8"/><use href="#mr" x="1193.0" y="817.6"/><use href="#mr" x="1198.0" y="813.1"/><use href="#mr" x="1203.0" y="818.4"/><use href="#mr" x="1208.2" y="818.7"/><use href="#mr" x="1213.5" y="818.2"/><use href="#mr" x="1218.8" y="812.9"/><use href="#mr" x="1224.0" y="817.0"/><use href="#mr" x="1229.0" y="816.6"/><use href="#mr" x="1234.0" y="816.8"/><use href="#mr" x="1239.0" y="819.7"/><use href="#mr" x="1244.0" y="818.7"/><use href="#mr" x="1249.1" y="821.4"/><use href="#mr" x="1254.2" y="820.0"/><use href="#mr" x="1259.4" y="818.1"/><use href="#mr" x="1264.5" y="821.5"/><use href="#mr" x="1269.6" y="821.2"/><use href="#mr" x="1274.8" y="821.6"/><use href="#mr" x="1279.9" y="824.4"/><use href="#mr" x="1285.0" y="822.2"/><use href="#mr" x="1289.7" y="823.6"/><use href="#mr" x="1294.3" y="820.8"/><use href="#mr" x="1299.0" y="823.5"/>
</g>
<text x="116" y="882.5" text-anchor="end" class="tk">0.0</text><text x="116" y="715.9" text-anchor="end" class="tk">0.1</text><text x="116" y="549.3" text-anchor="end" class="tk">0.2</text><text x="116" y="382.7" text-anchor="end" class="tk">0.3</text><text x="116" y="216.1" text-anchor="end" class="tk">0.4</text><text x="116" y="49.5" text-anchor="end" class="tk">0.5</text><text x="196.6" y="955.5" text-anchor="middle" class="tk">400</text><text x="441.6" y="955.5" text-anchor="middle" class="tk">500</text><text x="686.6" y="955.5" text-anchor="middle" class="tk">600</text><text x="931.6" y="955.5" text-anchor="middle" class="tk">700</text><text x="1176.6" y="955.5" text-anchor="middle" class="tk">800</text><text x="750.4" y="1024.7" text-anchor="middle" class="ti">Wavelength (nm)</text><text transform="translate(47.3,447.9) rotate(-90)" text-anchor="middle" class="ti">Haze</text>
<rect x="963" y="103" width="272" height="213" fill="#000"/><rect x="951.5" y="91" width="271.5" height="212.5" fill="#fff" stroke="#a0a0a0" stroke-width="2.6"/><line x1="966" y1="122.8" x2="1061" y2="122.8" stroke="#008B8B" stroke-width="4.5" stroke-linecap="round"/><use href="#mt" x="1013.5" y="122.8"/><text x="1071" y="137.2" class="lg">T-70</text><circle cx="1161.0" cy="111.0" r="2.9" fill="none" stroke="#222" stroke-width="1.9"/><text x="1163.0" y="137.7" class="cc">C</text><line x1="966" y1="174" x2="1061" y2="174" stroke="#808000" stroke-width="4.5" stroke-linecap="round"/><use href="#mo" x="1013.5" y="174"/><text x="1071" y="188.4" class="lg">T-80</text><circle cx="1161.0" cy="162.2" r="2.9" fill="none" stroke="#222" stroke-width="1.9"/><text x="1163.0" y="188.9" class="cc">C</text><line x1="966" y1="225.8" x2="1061" y2="225.8" stroke="#0000B4" stroke-width="4.5" stroke-linecap="round"/><use href="#mb" x="1013.5" y="225.8"/><text x="1071" y="240.2" class="lg">T-90</text><circle cx="1161.0" cy="214.0" r="2.9" fill="none" stroke="#222" stroke-width="1.9"/><text x="1163.0" y="240.7" class="cc">C</text><line x1="966" y1="280.3" x2="1061" y2="280.3" stroke="#FF8000" stroke-width="4.5" stroke-linecap="round"/><use href="#mr" x="1013.5" y="280.3"/><text x="1071" y="294.7" class="lg">T-100</text><circle cx="1180.5" cy="268.5" r="2.9" fill="none" stroke="#222" stroke-width="1.9"/><text x="1182.5" y="295.2" class="cc">C</text>
</g>
</svg>
</body></html>
